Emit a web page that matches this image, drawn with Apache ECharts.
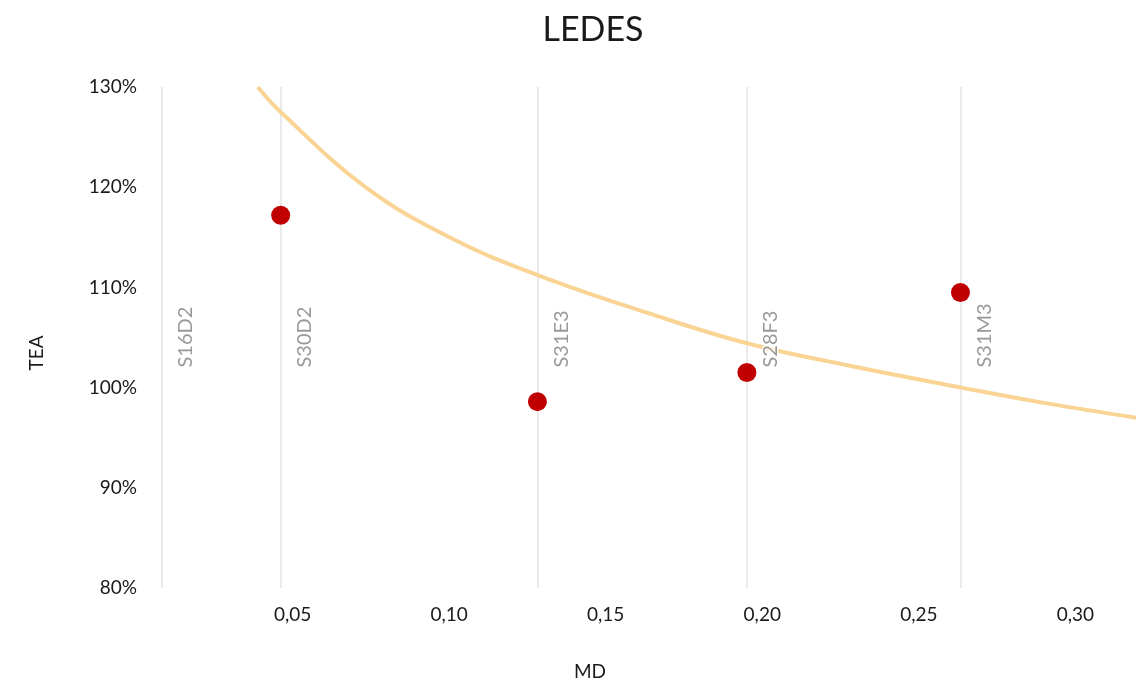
<!DOCTYPE html>
<html>
<head>
<meta charset="utf-8">
<script src="https://cdn.jsdelivr.net/npm/echarts@6/dist/echarts.min.js"></script>
<style>html,body{margin:0;padding:0;background:#fff}#c{width:1138px;height:685px}</style>
</head>
<body>
<div id="c"></div>
<script>
// Sample names and the MD position of their vertical lines
const sampleNames = ['S16D2', 'S30D2', 'S31E3', 'S28F3', 'S31M3'];
const sampleMD = [0.0083, 0.0462, 0.1282, 0.1951, 0.2633];
// Measured points (MD, TEA %)
const pointMD = [0.0462, 0.1282, 0.1951, 0.2633];
const pointTEA = [117.2, 98.6, 101.5, 109.5];
// Trend curve (MD, TEA %)
const trendMD = [0.0389, 0.0462, 0.0733, 0.1001, 0.1285, 0.1639, 0.1954, 0.2276, 0.2636, 0.2914, 0.3194];
const trendTEA = [130.0, 127.5, 120.0, 115.0, 111.2, 107.4, 104.4, 102.2, 100.0, 98.4, 97.0];
// Label anchor height (TEA %)
const labelTEA = 102;
const yTicks = [80, 90, 100, 110, 120, 130];

const font = 'Lato, "Open Sans", sans-serif';
const chart = echarts.init(document.getElementById('c'));
chart.setOption({
  backgroundColor: '#ffffff',
  animation: false,
  graphic: [
    { type: 'text', x: 593, y: 30, style: { text: 'LEDES', fontFamily: font, fontSize: 34, fill: '#1a1a1a', align: 'center', verticalAlign: 'middle' } },
    { type: 'text', x: 590, y: 672, style: { text: 'MD', fontFamily: font, fontSize: 19, fill: '#1a1a1a', align: 'center', verticalAlign: 'middle' } },
    { type: 'text', x: 37, y: 353, rotation: Math.PI / 2, style: { text: 'TEA', fontFamily: font, fontSize: 19, fill: '#1a1a1a', align: 'center', verticalAlign: 'middle' } }
  ],
  grid: { left: 136, right: -2, top: 87, bottom: 97 },
  xAxis: {
    type: 'value', min: 0, max: 0.32, interval: 0.05,
    axisLine: { show: false }, axisTick: { show: false }, splitLine: { show: false },
    axisLabel: {
      showMinLabel: false, showMaxLabel: false, margin: 17,
      fontFamily: font, fontSize: 19, color: '#1a1a1a',
      formatter: v => v.toFixed(2).replace('.', ',')
    }
  },
  yAxis: {
    type: 'value', min: yTicks[0], max: yTicks[yTicks.length - 1], interval: 10,
    axisLine: { show: false }, axisTick: { show: false }, splitLine: { show: false },
    axisLabel: { margin: -1, fontFamily: font, fontSize: 19, color: '#1a1a1a', formatter: v => v + '%' }
  },
  series: [
    {
      type: 'scatter', name: 'labels', symbolSize: 0, z: 6,
      data: sampleNames.map((n, i) => ({ value: [sampleMD[i], labelTEA], name: n })),
      label: {
        show: true, formatter: p => p.name, rotate: 90,
        position: [24, 0], align: 'left', verticalAlign: 'middle',
        fontFamily: font, fontSize: 20, color: '#808080',
        textBorderColor: '#ffffff', textBorderWidth: 3
      },
      markLine: {
        silent: true, symbol: 'none', precision: 5, z: 2,
        lineStyle: { color: '#e3e3e3', width: 1.5, type: 'solid' },
        label: { show: false },
        data: sampleMD.map(v => ({ xAxis: v }))
      }
    },
    {
      type: 'line', name: 'trend', smooth: 0.4, showSymbol: false, z: 4,
      lineStyle: { color: '#F9D494', width: 4 },
      data: trendMD.map((x, i) => [x, trendTEA[i]])
    },
    {
      type: 'scatter', name: 'TEA', symbolSize: 19, z: 5,
      itemStyle: { color: '#C00000', opacity: 1 },
      data: pointMD.map((x, i) => [x, pointTEA[i]])
    }
  ]
});
</script>
</body>
</html>
